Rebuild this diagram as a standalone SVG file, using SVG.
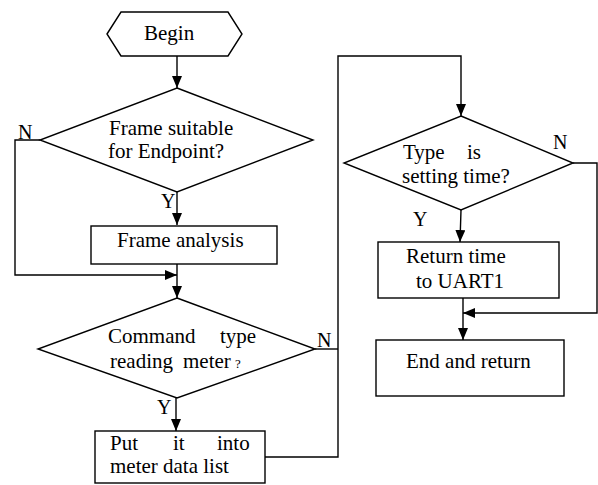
<svg xmlns="http://www.w3.org/2000/svg" width="598" height="485" viewBox="0 0 598 485">
<defs>
<marker id="ah" markerWidth="12" markerHeight="10" refX="12" refY="5" orient="auto" markerUnits="userSpaceOnUse">
<path d="M0,0 L12,5 L0,10 Z" fill="#000"/>
</marker>
<style>
.s{fill:#fff;stroke:#000;stroke-width:1.4}
.c{fill:none;stroke:#000;stroke-width:1.4}
text{font-family:"Liberation Serif","Times New Roman",serif;font-size:21px;fill:#000}
.l{font-size:20px}
</style>
</defs>
<rect width="598" height="485" fill="#fff"/>
<g id="connectors">
<path class="c" d="M177,56 V88" marker-end="url(#ah)"/>
<path class="c" d="M177,192 V225" marker-end="url(#ah)"/>
<path class="c" d="M40,140 H15 V275 H177" marker-end="url(#ah)"/>
<path class="c" d="M177,264 V298" marker-end="url(#ah)"/>
<path class="c" d="M176,398 V431" marker-end="url(#ah)"/>
<path class="c" d="M315,349 H338"/>
<path class="c" d="M265,457 H338 V56 H461 V116" marker-end="url(#ah)"/>
<path class="c" d="M461,210 L460,242" marker-end="url(#ah)"/>
<path class="c" d="M573,163 H597 V313 H463" marker-end="url(#ah)"/>
<path class="c" d="M463,298 V340" marker-end="url(#ah)"/>
<text class="l" x="18" y="139">N</text>
<text class="l" x="161" y="208">Y</text>
<text class="l" x="317" y="347">N</text>
<text class="l" x="157" y="414">Y</text>
<text class="l" x="553" y="149">N</text>
<text class="l" x="413" y="226">Y</text>
</g>
<g id="begin">
<polygon class="s" points="107,34 121,12 228,12 242,34 228,56 121,56"/>
<text x="144" y="40">Begin</text>
</g>
<g id="frame-suitable">
<polygon class="s" points="177,88 313,140 177,192 40,140"/>
<text x="109" y="135">Frame suitable</text>
<text x="108" y="158">for Endpoint?</text>
</g>
<g id="frame-analysis">
<rect class="s" x="91" y="226" width="186" height="38"/>
<text x="117" y="247">Frame analysis</text>
</g>
<g id="command-type">
<polygon class="s" points="177,298 315,349 177,398 38,349"/>
<text x="108" y="343">Command</text>
<text x="220" y="343">type</text>
<text x="110" y="368">reading</text>
<text x="183" y="368">meter</text>
<text x="235" y="368" style="font-size:13px">?</text>
</g>
<g id="put-into-list">
<rect class="s" x="95" y="431" width="170" height="52"/>
<text x="110" y="450">Put</text>
<text x="173" y="450">it</text>
<text x="217" y="450">into</text>
<text x="110" y="473">meter data list</text>
</g>
<g id="setting-time">
<polygon class="s" points="461,116 573,163 461,210 344,163"/>
<text x="403" y="159">Type</text>
<text x="467" y="159">is</text>
<text x="402" y="183">setting time?</text>
</g>
<g id="return-time">
<rect class="s" x="378" y="242" width="181" height="56"/>
<text x="406" y="263">Return time</text>
<text x="416" y="288">to UART1</text>
</g>
<g id="end-return">
<rect class="s" x="376" y="340" width="188" height="56"/>
<text x="406" y="368">End and return</text>
</g>
</svg>
